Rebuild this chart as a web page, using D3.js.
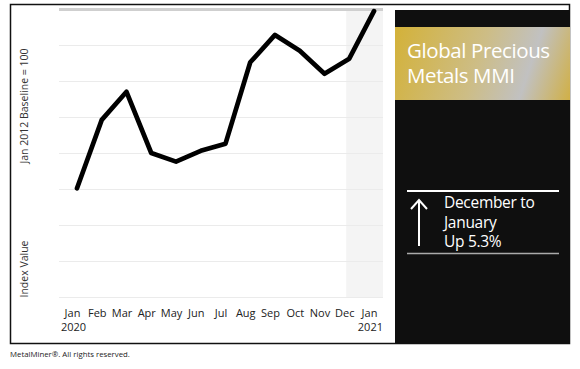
<!DOCTYPE html>
<html>
<head>
<meta charset="utf-8">
<script src="https://cdn.jsdelivr.net/npm/d3@7"></script>
<style>
  body { margin: 0; background: #fff; }
  svg text { font-family: "Open Sans", "Noto Sans", sans-serif; }
</style>
</head>
<body>
<div id="chart"></div>
<script>
// Data (index values, grid step 5)
const months = ["Jan", "Feb", "Mar", "Apr", "May", "Jun", "Jul", "Aug", "Sep", "Oct", "Nov", "Dec", "Jan"];
const years = ["2020", "", "", "", "", "", "", "", "", "", "", "", "2021"];
const values = [115.1, 124.6, 128.5, 120.0, 118.8, 120.3, 121.3, 132.6, 136.4, 134.2, 131.0, 133.1, 139.7];
const yTicks = [100, 105, 110, 115, 120, 125, 130, 135, 140];
const changeText = ["December to", "January", "Up 5.3%"];

const W = 580, H = 369;
const plot = { left: 59, right: 383, top: 9, bottom: 297 };

const svg = d3.select("#chart").append("svg")
  .attr("width", W)
  .attr("height", H);

const defs = svg.append("defs");

// Scales
const x = d3.scalePoint()
  .domain(d3.range(months.length))
  .range([77, 374]);

const y = d3.scaleLinear()
  .domain([100, 140])
  .range([plot.bottom, plot.top]);

// Outer frame
svg.append("rect")
  .attr("x", 10.5).attr("y", 4.5)
  .attr("width", 559).attr("height", 339)
  .attr("fill", "#fff")
  .attr("stroke", "#111")
  .attr("stroke-width", 1.5);

// Shaded latest period
svg.append("rect")
  .attr("x", x(11) - 3).attr("y", plot.top)
  .attr("width", plot.right - x(11) + 3)
  .attr("height", plot.bottom - plot.top)
  .attr("fill", "#f4f4f4");

// Grid lines
svg.append("g")
  .selectAll("line")
  .data(yTicks)
  .join("line")
  .attr("x1", plot.left).attr("x2", plot.right)
  .attr("y1", d => Math.round(y(d)) + 0.5)
  .attr("y2", d => Math.round(y(d)) + 0.5)
  .attr("stroke", d => d === 140 ? "#cfcfcf" : "#ebebeb")
  .attr("stroke-width", d => d === 140 ? 3 : 1);

// Axis titles
svg.append("text")
  .attr("transform", `translate(28,106) rotate(-90)`)
  .attr("text-anchor", "middle")
  .attr("font-size", 10.5)
  .attr("fill", "#333")
  .text("Jan 2012 Baseline = 100");

svg.append("text")
  .attr("transform", `translate(28,269) rotate(-90)`)
  .attr("text-anchor", "middle")
  .attr("font-size", 10.5)
  .attr("fill", "#333")
  .text("Index Value");

// Month labels
const xl = svg.append("g").attr("font-size", 11).attr("fill", "#222");
xl.selectAll("text.m")
  .data(months)
  .join("text")
  .attr("class", "m")
  .attr("x", (d, i) => x(i) - 4.5)
  .attr("y", 317)
  .attr("text-anchor", "middle")
  .text(d => d);

xl.append("text")
  .attr("x", 61).attr("y", 331)
  .text(years[0]);
xl.append("text")
  .attr("x", 383).attr("y", 331)
  .attr("text-anchor", "end")
  .text(years[12]);

// Line
const line = d3.line()
  .x((d, i) => x(i))
  .y(d => y(d));

svg.append("path")
  .datum(values)
  .attr("d", line)
  .attr("fill", "none")
  .attr("stroke", "#000")
  .attr("stroke-width", 4.7)
  .attr("stroke-linejoin", "round")
  .attr("stroke-linecap", "round");

// Side panel
const panel = { x: 395, y: 10, w: 175, h: 334 };
svg.append("rect")
  .attr("x", panel.x).attr("y", panel.y)
  .attr("width", panel.w).attr("height", panel.h)
  .attr("fill", "#0f0f0f");

const grad = defs.append("linearGradient")
  .attr("id", "gold")
  .attr("gradientUnits", "userSpaceOnUse")
  .attr("x1", 395).attr("y1", 40)
  .attr("x2", 575).attr("y2", 100);
grad.append("stop").attr("offset", "0%").attr("stop-color", "#d3b23c");
grad.append("stop").attr("offset", "45%").attr("stop-color", "#cdbd86");
grad.append("stop").attr("offset", "72%").attr("stop-color", "#c1c1c1");
grad.append("stop").attr("offset", "100%").attr("stop-color", "#d2ae3a");

svg.append("rect")
  .attr("x", panel.x).attr("y", 27)
  .attr("width", panel.w).attr("height", 73)
  .attr("fill", "url(#gold)");

const title = svg.append("text")
  .attr("fill", "#fff")
  .attr("font-size", 20.5)
  .attr("letter-spacing", -0.4);
title.append("tspan").attr("x", 407).attr("y", 58).text("Global Precious");
title.append("tspan").attr("x", 407).attr("y", 83).text("Metals MMI");

// Change box
svg.append("line")
  .attr("x1", 407).attr("x2", 559)
  .attr("y1", 191).attr("y2", 191)
  .attr("stroke", "#fff").attr("stroke-width", 2);
svg.append("line")
  .attr("x1", 407).attr("x2", 559)
  .attr("y1", 253.5).attr("y2", 253.5)
  .attr("stroke", "#aaa").attr("stroke-width", 1.5);

svg.append("path")
  .attr("d", "M419,246 L419,200 M411,209 L419,200 L427,209")
  .attr("fill", "none")
  .attr("stroke", "#fff")
  .attr("stroke-width", 2);

const change = svg.append("text")
  .attr("fill", "#fff")
  .attr("font-size", 15.5)
  .attr("letter-spacing", -0.3);
changeText.forEach((t, i) => {
  change.append("tspan").attr("x", 444).attr("y", 208 + i * 19.5).text(t);
});

// Footer
svg.append("text")
  .attr("x", 10).attr("y", 357)
  .attr("font-size", 7.8)
  .attr("fill", "#222")
  .text("MetalMiner\u00AE. All rights reserved.");
</script>
</body>
</html>
